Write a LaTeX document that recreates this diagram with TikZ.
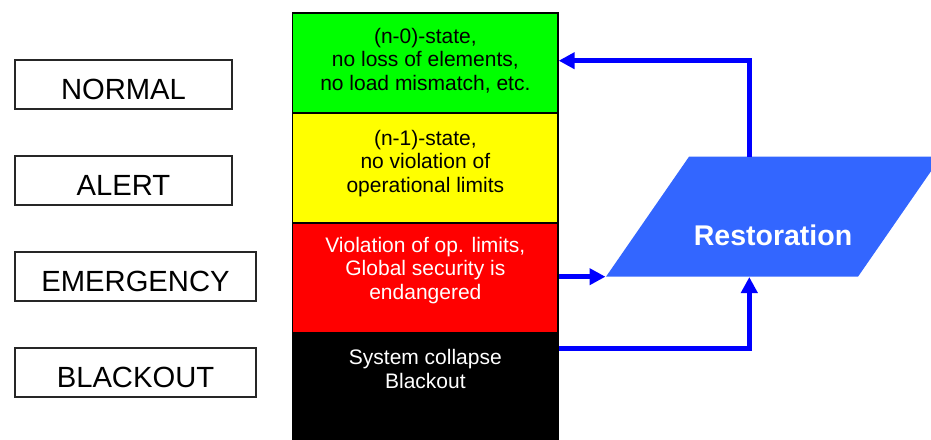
\documentclass[tikz,border=0pt]{standalone}
\usepackage{fontspec}
\setmainfont{Liberation Sans}
\usetikzlibrary{arrows.meta}
\definecolor{restfill}{HTML}{3366FF}
\definecolor{arrblue}{HTML}{0000FF}
\definecolor{cgreen}{HTML}{00FF00}
\definecolor{cyellow}{HTML}{FFFF00}
\definecolor{cred}{HTML}{FF0000}
\begin{document}
\begin{tikzpicture}[x=1pt,y=-1pt,
 statebox/.style={draw=black!85, line width=1.3pt, inner sep=0pt, minimum height=49pt,
   text height=39pt, text depth=10pt, font=\fontsize{29.2}{30}\selectfont},
 cell/.style={draw=black, line width=1.3pt, inner sep=0pt, minimum width=265.3pt},
 celltext/.style={align=center, inner sep=0pt, font=\fontsize{21}{23.7}\selectfont},
 flow/.style={draw=arrblue, line width=4.5pt, -{Triangle[length=16pt,width=16pt]}}
]
\useasboundingbox (0,0) rectangle (931,439);

% state labels
\node[statebox, minimum width=217pt] (normal) at (123.5,84.5) {NORMAL};
\node[statebox, minimum width=217pt] (alert) at (123.5,180.5) {ALERT};
\node[statebox, minimum width=241pt] (emerg) at (135.5,276.5) {EMERGENCY};
\node[statebox, minimum width=241pt] (blackout) at (135.5,372.5) {BLACKOUT};

% column cells
\node[cell, fill=cgreen, minimum height=100pt] (green) at (425.35,63) {};
\node[cell, fill=cyellow, minimum height=110pt] (yellow) at (425.35,168) {};
\node[cell, fill=cred, minimum height=110pt] (red) at (425.35,278) {};
\node[cell, fill=black, minimum height=106pt] (black) at (425.35,386) {};

\node[celltext] (tgreen) at (425.35,60.5) {(n-0)-state,\\no loss of elements,\\no load mismatch, etc.};
\node[celltext] (tyellow) at (425.35,163.5) {(n-1)-state,\\no violation of\\operational limits};
\node[celltext, text=white] (tred) at (425.35,270.5) {Violation of op. limits,\\Global security is\\endangered};
\node[celltext, text=white] (tblack) at (425.35,369) {System collapse\\Blackout};

% restoration parallelogram (clipped at right border)
\fill[restfill] (606,276.7) -- (689,156.7) -- (931,156.7) -- (931,171.2) -- (858,276.7) -- cycle;
\node[font=\bfseries\fontsize{28.5}{30}\selectfont, text=white, inner sep=0pt] (rest) at (773,235) {Restoration};
\coordinate (restTop) at (749.3,156.7);
\coordinate (restLeft) at (605.5,276.7);
\coordinate (restBot) at (749.3,277);

% connectors
\draw[flow] (restTop) |- ([yshift=2.3pt]green.east);
\draw[flow] ([yshift=1.3pt]red.east) -- (restLeft);
\draw[flow] ([yshift=-16pt]black.north east) -| (restBot);
\end{tikzpicture}
\end{document}
